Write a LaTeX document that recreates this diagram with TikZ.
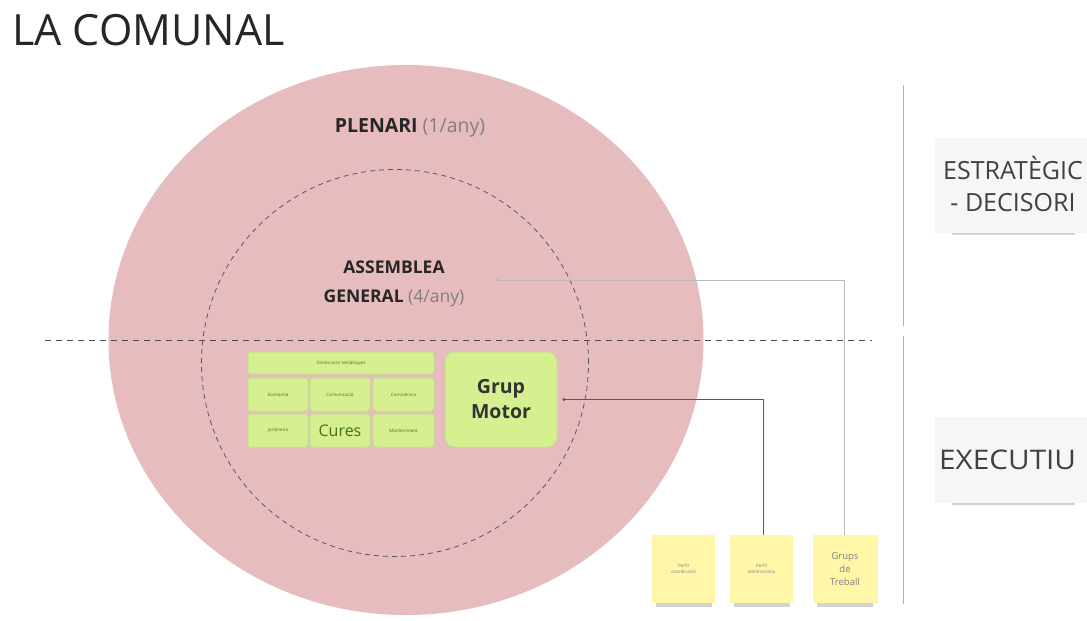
\documentclass[tikz,border=0pt]{standalone}
\usepackage{fontspec}
\setmainfont{Open Sans}
\usetikzlibrary{shapes.geometric,arrows.meta}
\definecolor{plenpink}{RGB}{231,188,191}
\definecolor{boxgreen}{RGB}{214,240,145}
\definecolor{boxedge}{RGB}{200,225,140}
\definecolor{txtgreen}{RGB}{70,110,30}
\definecolor{notey}{RGB}{255,246,168}
\definecolor{labelbg}{RGB}{246,246,246}
\tikzset{
  cell/.style={fill=boxgreen, draw=boxedge, line width=1pt, rounded corners=3pt, inner sep=0pt, text=txtgreen, font=\fontsize{4.5}{5}\selectfont},
  note/.style={fill=notey, inner sep=0pt, minimum width=63pt, minimum height=68pt, align=center, text=gray, font=\fontsize{4.5}{6}\selectfont},
  conn/.style={line width=0.8pt, -{Circle[length=3pt]}},
  sideline/.style={draw=gray!60, line width=1pt},
  sidelabel/.style={fill=labelbg, inner sep=0pt, anchor=north west},
  shadowbar/.style={fill=gray!60, opacity=0.55}
}
\begin{document}
\begin{tikzpicture}[x=1pt,y=-1pt]
\path[use as bounding box, fill=white] (0,0) rectangle (1087,621);
% title
\node[anchor=west, font=\fontsize{43}{46}\selectfont, text=black!85, inner sep=0pt] (title) at (12,30) {LA COMUNAL};
% circles
\node[ellipse, fill=plenpink, minimum width=595pt, minimum height=550pt, inner sep=0pt] (plen) at (406,340) {};
\node[circle, draw=gray!70!black, line width=0.8pt, dash pattern=on 5pt off 4pt, minimum size=387pt, inner sep=0pt] (ag) at (395,363) {};
\node[font=\fontsize{19.5}{22}\selectfont, text=black!85] (plentxt) at (410,128) {\textbf{PLENARI} \textcolor{gray}{(1/any)}};
\node[font=\fontsize{17.5}{29}\selectfont, align=center, text=black!85] (agtxt) at (394,284) {\textbf{ASSEMBLEA}\\\textbf{GENERAL} \textcolor{gray}{(4/any)}};
% horizontal divider
\coordinate (hl) at (45,340);
\coordinate (hr) at (872,340);
\draw[gray!60!black, line width=1pt, dash pattern=on 6pt off 5pt] (hl) -- (hr);
% commission boxes
\node[cell, minimum width=186pt, minimum height=22pt] (com) at (341,363) {Comissions temàtiques};
\node[cell, minimum width=60pt, minimum height=33pt] (c11) at (278,394.5) {Economia};
\node[cell, minimum width=60pt, minimum height=33pt] (c12) at (340,394.5) {Comunicació};
\node[cell, minimum width=61pt, minimum height=33pt] (c13) at (403.5,394.5) {Convivència};
\node[cell, minimum width=60pt, minimum height=33pt] (c21) at (278,430.5) {Jardineria};
\node[cell, minimum width=60pt, minimum height=33pt, font=\fontsize{16}{17}\selectfont] (c22) at (340,430.5) {Cures};
\node[cell, minimum width=61pt, minimum height=33pt] (c23) at (403.5,430.5) {Manteniment};
\node[cell, rounded corners=10pt, minimum width=112pt, minimum height=95pt, align=center, font=\fontsize{19.5}{25}\selectfont\bfseries, text=black!80] (gm) at (501,399.5) {Grup\\Motor};
% sticky notes
\foreach \x in {683.5,761.5,845}{
  \fill[shadowbar] (\x-28,603) rectangle (\x+28,607);
}
\node[note] (n1) at (683.5,569) {Perfil\\coordinació};
\node[note] (n2) at (761.5,569) {Perfil\\administratiu};
\node[note, minimum width=65pt, font=\fontsize{9.5}{13}\selectfont] (n3) at (845,569) {Grups\\de\\Treball};
% connectors
\coordinate (agin) at (496,280);
\draw[conn, gray!55] ([xshift=-1pt]n3.north) |- (agin);
\draw[conn, black!65] ([xshift=1.5pt]n2.north) |- ([xshift=5pt]gm.east);
% right bracket
\coordinate (b1) at (903,85);
\coordinate (b2) at (903,326);
\coordinate (b3) at (903,336);
\coordinate (b4) at (903,604);
\draw[sideline] (b1) -- (b2);
\draw[sideline] (b3) -- (b4);
% side labels
\fill[shadowbar] (952,232) rectangle (1075,235);
\node[sidelabel, minimum width=160pt, minimum height=95pt] (strat) at (935,138) {};
\node[font=\fontsize{25}{32}\selectfont, text=black!75, align=center, inner sep=0pt] (strattxt) at (1013,184) {ESTRATÈGIC\\- DECISORI};
\fill[shadowbar] (952,502) rectangle (1075,505);
\node[sidelabel, minimum width=160pt, minimum height=86pt] (exec) at (935,417) {};
\node[font=\fontsize{27}{30}\selectfont, text=black!75, anchor=west, inner sep=0pt, xscale=1.1] (exectxt) at (939,460) {EXECUTIU};
\end{tikzpicture}
\end{document}
